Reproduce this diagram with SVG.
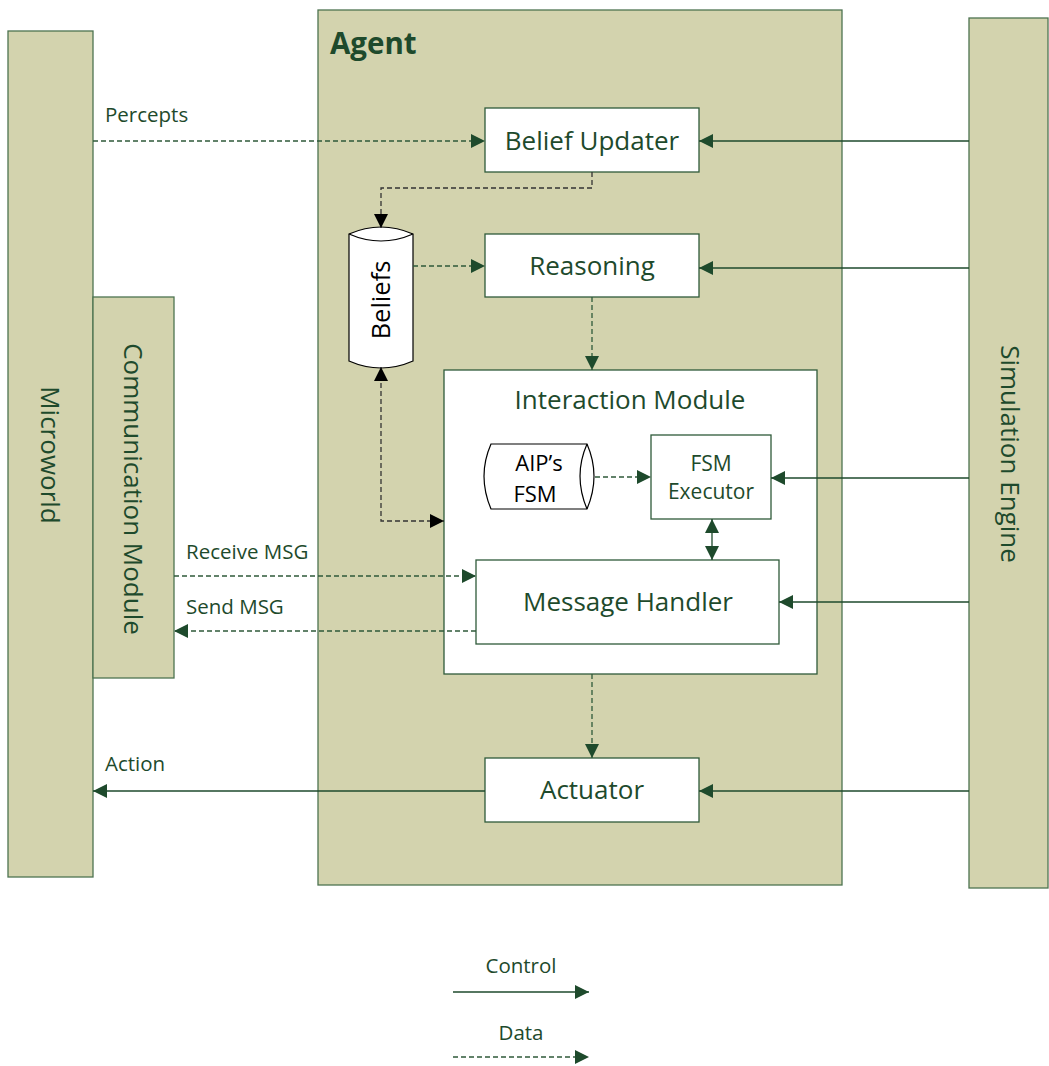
<svg xmlns="http://www.w3.org/2000/svg" width="1049" height="1066" viewBox="0 0 1049 1066">
<style>
.panel{fill:#d3d3ae;stroke:#4d7350;stroke-width:1.3}
.box{fill:#ffffff;stroke:#2f5a3a;stroke-width:1.3}
.cyl{fill:#ffffff;stroke:#000000;stroke-width:1.2}
.t{font-family:"Open Sans","Liberation Sans",sans-serif;fill:#1e4a2c}
.tb{font-family:"Open Sans","Liberation Sans",sans-serif;fill:#000000}
.ctl{fill:none;stroke:#1e4a2c;stroke-width:1.3}
.dat{fill:none;stroke:#2f5a3a;stroke-width:1.3;stroke-dasharray:5 3}
.datk{fill:none;stroke:#333333;stroke-width:1.3;stroke-dasharray:5 3}
</style>
<defs>
<marker id="ag" viewBox="0 0 10 10" refX="10" refY="5" markerWidth="14" markerHeight="14" markerUnits="userSpaceOnUse" orient="auto-start-reverse"><path d="M0,0 L10,5 L0,10 z" fill="#1e4a2c"/></marker>
<marker id="ak" viewBox="0 0 10 10" refX="10" refY="5" markerWidth="14" markerHeight="14" markerUnits="userSpaceOnUse" orient="auto-start-reverse"><path d="M0,0 L10,5 L0,10 z" fill="#000000"/></marker>
</defs>
<rect width="1049" height="1066" fill="#ffffff"/>

<g id="microworld">
<rect class="panel" x="8" y="31" width="85" height="846"/>
<text class="t" font-size="26" text-anchor="middle" transform="translate(41,455) rotate(90)">Microworld</text>
</g>
<g id="communication-module">
<rect class="panel" x="93" y="297" width="81" height="381"/>
<text class="t" font-size="26" text-anchor="middle" transform="translate(124,489) rotate(90)">Communication Module</text>
</g>
<g id="agent">
<rect class="panel" x="318" y="10" width="524" height="875"/>
<text class="t" font-size="29.5" font-weight="bold" x="330" y="54">Agent</text>
</g>
<g id="simulation-engine">
<rect class="panel" x="969" y="18" width="79" height="870"/>
<text class="t" font-size="26" text-anchor="middle" transform="translate(1001,454) rotate(90)">Simulation Engine</text>
</g>

<g id="belief-updater">
<rect class="box" x="485" y="108" width="214" height="64"/>
<text class="t" font-size="26" text-anchor="middle" x="592" y="150">Belief Updater</text>
</g>
<g id="reasoning">
<rect class="box" x="485" y="234" width="214" height="63"/>
<text class="t" font-size="26" text-anchor="middle" x="592" y="275">Reasoning</text>
</g>
<g id="beliefs">
<path class="cyl" d="M349,234 Q381,220 413,234 L413,361 Q381,375 349,361 Z"/>
<path class="cyl" d="M349,234 Q381,248 413,234"/>
<text class="tb" font-size="25.5" text-anchor="middle" transform="translate(390,300) rotate(-90)">Beliefs</text>
</g>
<g id="interaction-module">
<rect class="box" x="444" y="370" width="373" height="304"/>
<text class="t" font-size="26" text-anchor="middle" x="630" y="409">Interaction Module</text>
</g>
<g id="aips-fsm">
<path class="cyl" d="M491,444 L587,444 Q601,476 587,509 L491,509 Q477,476 491,444 Z"/>
<path class="cyl" d="M587,444 Q573,476 587,509"/>
<text class="tb" font-size="22" text-anchor="middle" x="539" y="471">AIP’s</text>
<text class="tb" font-size="22" text-anchor="middle" x="535" y="502">FSM</text>
</g>
<g id="fsm-executor">
<rect class="box" x="651" y="435" width="120" height="84"/>
<text class="t" font-size="21" text-anchor="middle" x="711" y="471">FSM</text>
<text class="t" font-size="21" text-anchor="middle" x="711" y="499">Executor</text>
</g>
<g id="message-handler">
<rect class="box" x="476" y="560" width="303" height="84"/>
<text class="t" font-size="26" text-anchor="middle" x="628" y="611">Message Handler</text>
</g>
<g id="actuator">
<rect class="box" x="485" y="758" width="214" height="64"/>
<text class="t" font-size="26" text-anchor="middle" x="592" y="799">Actuator</text>
</g>

<g id="connectors">
<path class="dat" d="M93,141 H485" marker-end="url(#ag)"/>
<path class="ctl" d="M969,141 H699" marker-end="url(#ag)"/>
<path class="datk" d="M592,172 V188 H381 V228" marker-end="url(#ak)"/>
<path class="dat" d="M413,266 H485" marker-end="url(#ag)"/>
<path class="ctl" d="M969,268 H699" marker-end="url(#ag)"/>
<path class="dat" d="M592,297 V370" marker-end="url(#ag)"/>
<path class="datk" d="M381,367 V521 H444" marker-start="url(#ak)" marker-end="url(#ak)"/>
<path class="dat" d="M595,477 H651" marker-end="url(#ag)"/>
<path class="ctl" d="M969,478 H771" marker-end="url(#ag)"/>
<path class="ctl" d="M712,519 V560" marker-start="url(#ag)" marker-end="url(#ag)"/>
<path class="dat" d="M174,576 H476" marker-end="url(#ag)"/>
<path class="dat" d="M476,631 H174" marker-end="url(#ag)"/>
<path class="ctl" d="M969,602 H779" marker-end="url(#ag)"/>
<path class="dat" d="M592,674 V758" marker-end="url(#ag)"/>
<path class="ctl" d="M969,791 H699" marker-end="url(#ag)"/>
<path class="ctl" d="M485,791 H93" marker-end="url(#ag)"/>
<text class="t" font-size="20.5" x="105" y="122">Percepts</text>
<text class="t" font-size="20.5" x="186" y="559">Receive MSG</text>
<text class="t" font-size="20.5" x="186" y="614">Send MSG</text>
<text class="t" font-size="20.5" x="105" y="771">Action</text>
</g>

<g id="legend">
<text class="t" font-size="20.5" text-anchor="middle" x="521" y="973">Control</text>
<path class="ctl" d="M453,992 H589" marker-end="url(#ag)"/>
<text class="t" font-size="20.5" text-anchor="middle" x="521" y="1040">Data</text>
<path class="dat" d="M453,1057 H589" marker-end="url(#ag)"/>
</g>
</svg>
